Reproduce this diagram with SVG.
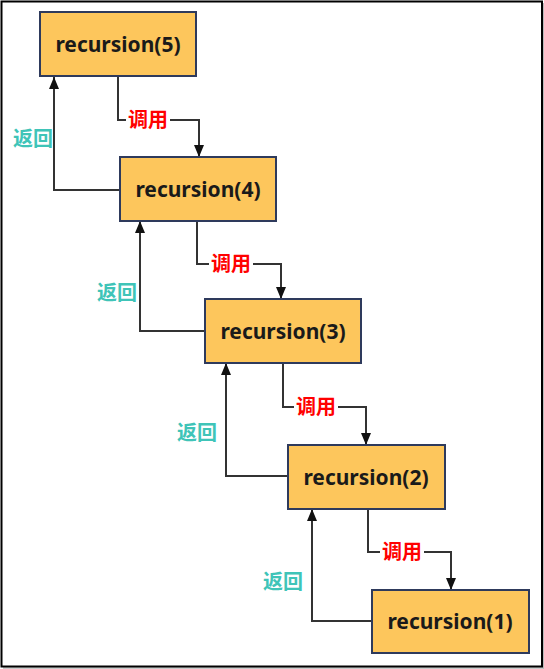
<svg xmlns="http://www.w3.org/2000/svg" width="544" height="669" viewBox="0 0 544 669">
<defs>
<style>
.box{fill:#fdc65c;stroke:#2e3a5c;stroke-width:2}
.lbl{font-family:"Noto Sans","Open Sans",sans-serif;font-weight:bold;font-size:21px;fill:#1a1a1a;text-anchor:middle}
.line{fill:none;stroke:#333;stroke-width:2}
.call{font-family:"Noto Sans CJK SC",sans-serif;font-weight:bold;font-size:20px;fill:#ff0000;text-anchor:middle}
.ret{font-family:"Noto Sans CJK SC",sans-serif;font-weight:bold;font-size:20px;fill:#3fc4b8;text-anchor:middle}
.bg{fill:#fff}
</style>
<marker id="ah" viewBox="0 0 12 12" refX="12" refY="6" markerWidth="12" markerHeight="12" orient="auto" markerUnits="userSpaceOnUse">
<path d="M0,1 L12,6 L0,11 z" fill="#111"/>
</marker>
</defs>
<rect x="0" y="0" width="544" height="669" fill="#fff"/>
<line x1="543.5" y1="3" x2="543.5" y2="669" stroke="#bbb" stroke-width="1.5"/>
<line x1="3" y1="668" x2="544" y2="668" stroke="#bbb" stroke-width="1.5"/>
<rect x="1.5" y="1.5" width="540.5" height="665" fill="none" stroke="#000" stroke-width="2"/>
<g id="connectors">
<path class="line" d="M118,77 V120 H199 V157" marker-end="url(#ah)"/>
<path class="line" d="M120,190 H54 V77" marker-end="url(#ah)"/>
<path class="line" d="M197,221 V264 H281 V299" marker-end="url(#ah)"/>
<path class="line" d="M205,331 H140 V221" marker-end="url(#ah)"/>
<path class="line" d="M283,363 V407 H366 V445" marker-end="url(#ah)"/>
<path class="line" d="M288,476 H226 V363" marker-end="url(#ah)"/>
<path class="line" d="M368,509 V552 H451 V590" marker-end="url(#ah)"/>
<path class="line" d="M372,621 H312 V509" marker-end="url(#ah)"/>
<rect class="bg" x="126" y="110" width="44" height="20"/>
<text class="call" x="148" y="127">调用</text>
<rect class="bg" x="209" y="254" width="44" height="20"/>
<text class="call" x="231" y="271">调用</text>
<rect class="bg" x="294" y="397" width="44" height="20"/>
<text class="call" x="316" y="414">调用</text>
<rect class="bg" x="380" y="542" width="44" height="20"/>
<text class="call" x="402" y="559">调用</text>
<text class="ret" x="33" y="146">返回</text>
<text class="ret" x="117" y="300">返回</text>
<text class="ret" x="197" y="440">返回</text>
<text class="ret" x="283" y="589">返回</text>
</g>
<g id="n5"><rect class="box" x="40" y="12" width="156" height="64"/><text class="lbl" x="118" y="52">recursion(5)</text></g>
<g id="n4"><rect class="box" x="120" y="157" width="156" height="64"/><text class="lbl" x="198" y="197">recursion(4)</text></g>
<g id="n3"><rect class="box" x="205" y="299" width="156" height="64"/><text class="lbl" x="283" y="339">recursion(3)</text></g>
<g id="n2"><rect class="box" x="288" y="445" width="157" height="64"/><text class="lbl" x="366" y="485">recursion(2)</text></g>
<g id="n1"><rect class="box" x="372" y="590" width="157" height="63"/><text class="lbl" x="450" y="629">recursion(1)</text></g>
</svg>
